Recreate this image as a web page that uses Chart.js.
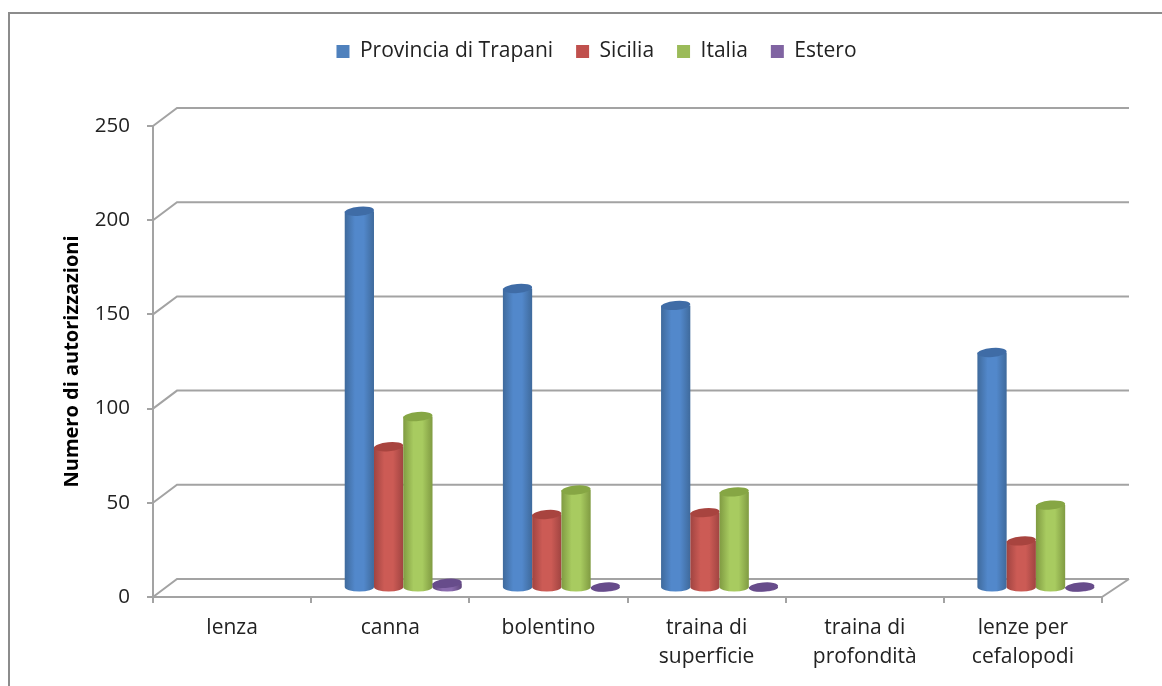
<!DOCTYPE html>
<html>
<head>
<meta charset="utf-8">
<script src="https://cdn.jsdelivr.net/npm/chart.js@4"></script>
<style>
  html, body { margin: 0; background: #fff; }
  #wrap { width: 1162px; height: 686px; }
</style>
</head>
<body>
<div id="wrap"><canvas id="bar-chart" width="1162" height="686"></canvas></div>
<script>
const categories = ["lenza", "canna", "bolentino", ["traina di", "superficie"], ["traina di", "profondità"], ["lenze per", "cefalopodi"]];
const provincia = [0, 200, 159, 150, 0, 125];
const sicilia = [0, 75, 39, 40, 0, 25];
const italia = [0, 91, 52, 51, 0, 44];
const estero = [0, 2.5, 0.5, 0.5, 0, 0.5];
const yTicks = [0, 50, 100, 150, 200, 250];

const FONT = "'Open Sans', sans-serif";
const GREY = "#a3a3a3";

// colours for one cylinder: side edge, side middle, lid
const shades = {
  "Provincia di Trapani": ["#3f6a9c", "#5288cb", "#3f6ca6"],
  "Sicilia": ["#a04441", "#cc5b55", "#a8443f"],
  "Italia": ["#809b42", "#a8cb60", "#86a644"],
  "Estero": ["#5f467c", "#8a6bae", "#674c8b"],
};

const line = (ctx, x1, y1, x2, y2) => {
  ctx.beginPath();
  ctx.moveTo(x1, y1);
  ctx.lineTo(x2, y2);
  ctx.stroke();
};

// frame and the 3d walls behind the bars, hung on the y scale
const wallsPlugin = {
  id: "walls",
  afterInit(chart) {
    // keep room under the legend
    const fit = chart.legend.fit;
    chart.legend.fit = function () {
      fit.call(this);
      this.height += 54;
    };
  },
  afterLayout(chart) {
    // the legend sits centred on the whole picture, not between the paddings
    chart.legend.left += 15.5;
    chart.legend.right += 15.5;
  },
  beforeDatasetsDraw(chart) {
    const { ctx, chartArea, scales } = chart;
    ctx.save();
    ctx.strokeStyle = "#8c8c8c";
    ctx.lineWidth = 2;
    ctx.beginPath();
    ctx.moveTo(9, 686);
    ctx.lineTo(9, 13);
    ctx.lineTo(1162, 13);
    ctx.stroke();

    ctx.strokeStyle = GREY;
    yTicks.forEach((v) => {
      const y = scales.y.getPixelForValue(v);
      ctx.beginPath();
      ctx.moveTo(chartArea.left, y);
      ctx.lineTo(chartArea.left + 24, y - 18);
      ctx.lineTo(chartArea.right + 27, y - 18);
      ctx.stroke();
    });
    const floor = scales.y.getPixelForValue(0);
    line(ctx, chartArea.right, floor, chartArea.right + 27, floor - 18);
    ctx.restore();
  },
  // the library's bars are skipped, the cylinders below take their place
  beforeDatasetDraw() {
    return false;
  },
  afterDatasetsDraw(chart) {
    const { ctx } = chart;
    chart.data.datasets.forEach((ds, i) => {
      const [edge, mid, lid] = shades[ds.label];
      chart.getDatasetMeta(i).data.forEach((bar, j) => {
        if (!ds.data[j]) return;
        const rx = bar.width / 2;
        const ry = 4.5;
        const cx = bar.x + 13;
        const top = bar.y - 9;
        const base = bar.base - 9;

        const grad = ctx.createLinearGradient(cx - rx, 0, cx + rx, 0);
        grad.addColorStop(0, edge);
        grad.addColorStop(0.35, mid);
        grad.addColorStop(0.65, mid);
        grad.addColorStop(1, edge);

        ctx.save();
        ctx.fillStyle = grad;
        ctx.beginPath();
        ctx.moveTo(cx - rx, top);
        ctx.lineTo(cx - rx, base);
        ctx.ellipse(cx, base, rx, ry, 0, Math.PI, 0, true);
        ctx.lineTo(cx + rx, top);
        ctx.closePath();
        ctx.fill();

        ctx.fillStyle = lid;
        ctx.beginPath();
        ctx.ellipse(cx, top, rx, ry, -0.09, 0, Math.PI * 2);
        ctx.fill();
        ctx.restore();
      });
    });
  },
};

const makeSet = (label, data, color) => ({ label, data, backgroundColor: color, borderWidth: 0 });

new Chart(document.getElementById("bar-chart"), {
  type: "bar",
  data: {
    labels: categories,
    datasets: [
      makeSet("Provincia di Trapani", provincia, "#4f81bd"),
      makeSet("Sicilia", sicilia, "#c0504d"),
      makeSet("Italia", italia, "#9bbb59"),
      makeSet("Estero", estero, "#8064a2"),
    ],
  },
  plugins: [wallsPlugin],
  options: {
    responsive: false,
    animation: false,
    layout: { padding: { left: 60, right: 60, top: 18, bottom: 0 } },
    categoryPercentage: 0.74,
    barPercentage: 1,
    scales: {
      x: {
        grid: { drawOnChartArea: false, color: GREY, lineWidth: 2, tickLength: 6 },
        border: { color: GREY, width: 2 },
        ticks: { color: "#222", font: { family: FONT, size: 21, lineHeight: 1.35 }, maxRotation: 0, padding: 11 },
        afterFit(scale) { scale.height = 89; },
      },
      y: {
        min: 0,
        max: 250,
        grid: { drawOnChartArea: false, color: GREY, lineWidth: 2, tickLength: 6 },
        border: { color: GREY, width: 2 },
        title: {
          display: true,
          text: "Numero di autorizzazioni",
          color: "#000",
          font: { family: FONT, size: 20, weight: "bold" },
          padding: 0,
        },
        ticks: {
          color: "#222",
          stepSize: 50,
          font: { family: FONT, size: 20.5 },
          padding: 17,
        },
        afterFit(scale) { scale.width = 93; },
      },
    },
    plugins: {
      tooltip: { enabled: false },
      legend: {
        position: "top",
        labels: {
          color: "#222",
          boxWidth: 13,
          boxHeight: 13,
          padding: 23,
          font: { family: FONT, size: 21 },
        },
      },
    },
  },
});
</script>
</body>
</html>
